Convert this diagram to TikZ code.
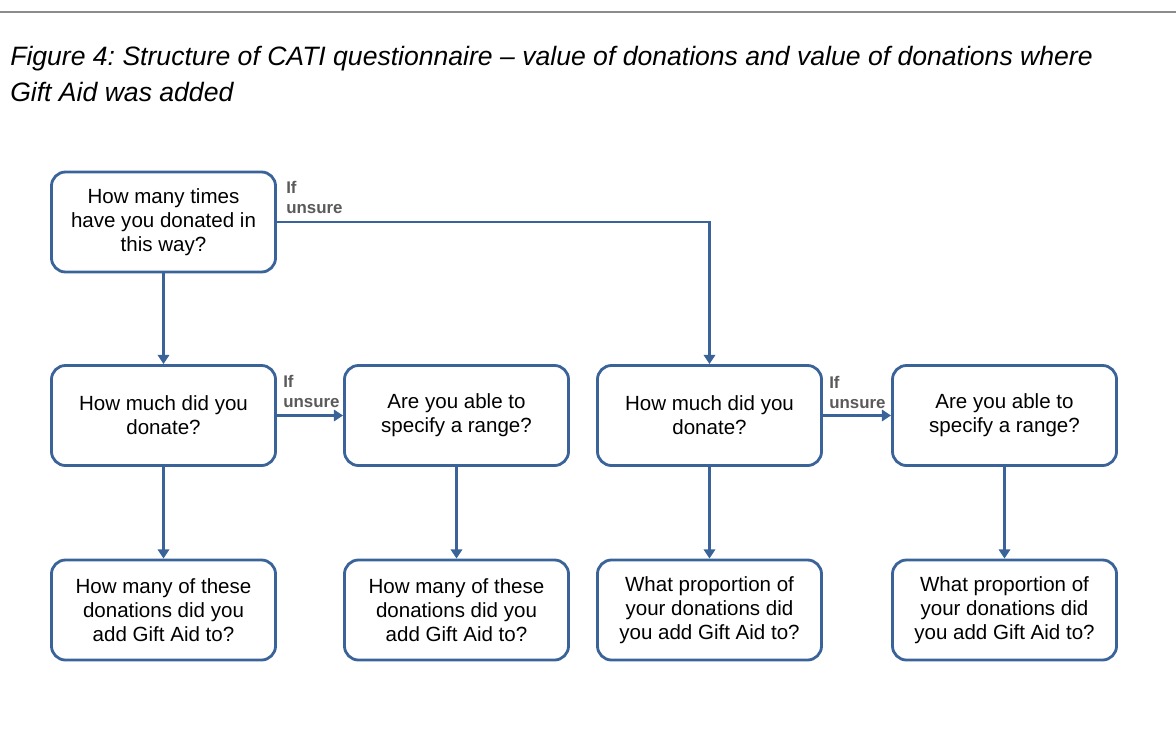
\documentclass[tikz,border=0pt]{standalone}
\usepackage{fontspec}
\setmainfont{Liberation Sans}
\usepackage{xcolor}
\usetikzlibrary{arrows.meta}
\usetikzlibrary{positioning}
\definecolor{boxblue}{HTML}{3A6499}
\definecolor{lblgray}{HTML}{5A5A5A}
\frenchspacing

\begin{document}
\begin{tikzpicture}[x=0.025cm,y=-0.025cm,
  qbox/.style={draw=boxblue, line width=2pt, rounded corners=10pt, fill=white,
    minimum width=5.6cm, minimum height=2.5cm, align=center, inner sep=2pt,
    font=\fontsize{14.6}{17.2}\selectfont},
  arr/.style={draw=boxblue, line width=1.7pt, -{Triangle[length=6.5pt,width=8pt]}},
  lbl/.style={text=lblgray, font=\fontsize{12}{14.4}\selectfont\bfseries, align=left, inner sep=0pt}]
\useasboundingbox (0,0) rectangle (1176,736);
\draw [line width=1.5pt, gray!90] (0,12) -- (1176,12);
\node [anchor=north west, align=left, inner sep=0pt, font=\fontsize{18.9}{25.6}\selectfont\itshape] (title) at (10,46)
  {Figure 4: Structure of CATI questionnaire -- value of donations and value of donations where\\Gift Aid was added};

% questions
\node [qbox] (times) at (163.5,222) {How many times\\have you donated in\\this way?};
\node [qbox] (much1) at (163.5,415.5) {How much did you\\donate?};
\node [qbox] (range1) at (456.5,415.5) {Are you able to\\specify a range?};
\node [qbox] (much2) at (709.5,415.5) {How much did you\\donate?};
\node [qbox] (range2) at (1004.5,415.5) {Are you able to\\specify a range?};
\node [qbox] (gift1) at (163.5,610) {How many of these\\donations did you\\add Gift Aid to?};
\node [qbox] (gift2) at (456.5,610) {How many of these\\donations did you\\add Gift Aid to?};
\node [qbox] (prop1) at (709.5,610) {What proportion of\\your donations did\\you add Gift Aid to?};
\node [qbox] (prop2) at (1004.5,610) {What proportion of\\your donations did\\you add Gift Aid to?};

% if unsure
\node [lbl, anchor=south west] (unsure0) at (286,214) {If\\unsure};
\node [lbl, anchor=south west] (unsure1) at (283,408) {If\\unsure};
\node [lbl, anchor=south west] (unsure2) at (829,409) {If\\unsure};

\draw [arr] (times) -- (much1);
\draw [arr] (times.east) -| (much2.north);
\draw [arr] (much1) -- (range1);
\draw [arr] (much2) -- (range2);
\draw [arr] (much1) -- (gift1);
\draw [arr] (range1) -- (gift2);
\draw [arr] (much2) -- (prop1);
\draw [arr] (range2) -- (prop2);
\end{tikzpicture}
\end{document}
